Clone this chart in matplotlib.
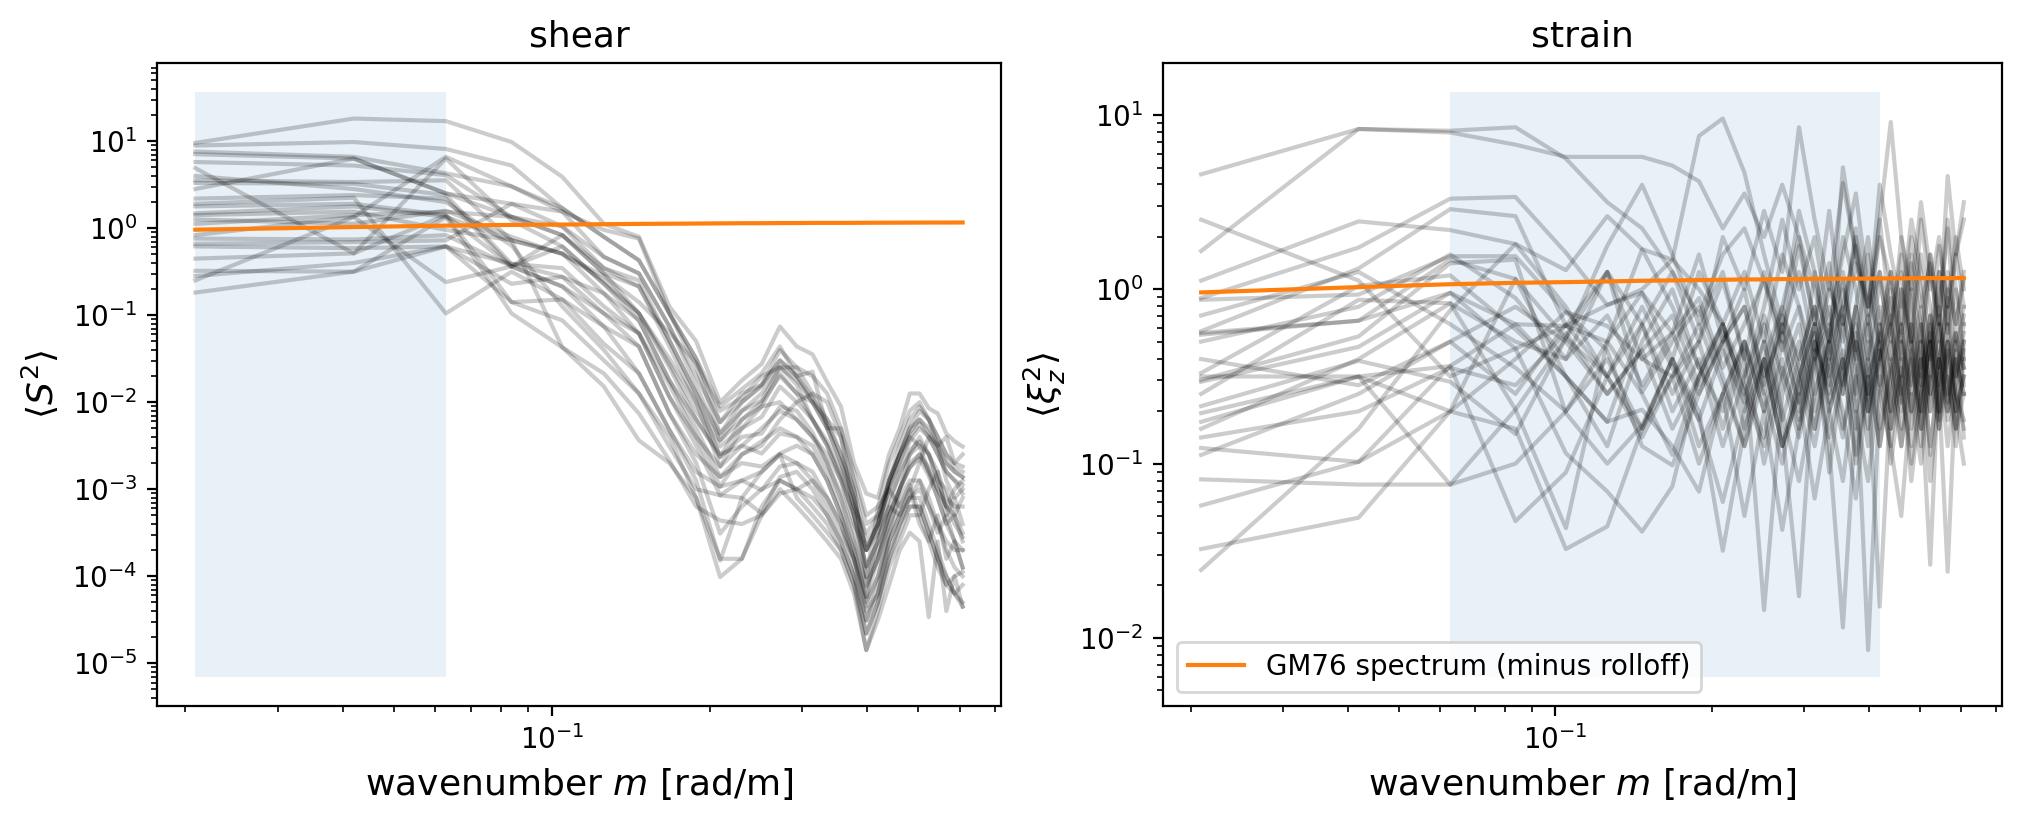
import numpy as np
import matplotlib.pyplot as plt

# vertical wavenumbers of the spectral estimates [rad/m]
m = [0.0209, 0.0419, 0.0628, 0.0838, 0.1047, 0.1257, 0.1466, 0.1676, 0.1885, 0.2094,
     0.2304, 0.2513, 0.2723, 0.2932, 0.3142, 0.3351, 0.3560, 0.3770, 0.3979, 0.4189,
     0.4398, 0.4608, 0.4817, 0.5027, 0.5236, 0.5445, 0.5655, 0.5864, 0.6074]

# GM76 reference spectrum (same in both panels)
gm76 = [0.96, 1.03, 1.07, 1.09, 1.10, 1.11, 1.12, 1.125, 1.13, 1.135, 1.14, 1.14, 1.145, 1.145,
        1.15, 1.15, 1.15, 1.152, 1.154, 1.155, 1.156, 1.157, 1.158, 1.159, 1.16, 1.16, 1.16,
        1.161, 1.162]

# normalised shear spectra, one row per profile (log10 values)
shear_log10 = [
    [0.98, 1.26, 1.23, 0.99, 0.59, 0.05, -0.10, -0.90, -1.30, -2.00, -1.75, -1.56, -1.13, -1.36, -1.45, -1.77, -2.05, -2.70, -3.05, -3.10, -2.60, -2.30, -1.90, -1.90, -2.07, -2.13, -2.36, -2.45, -2.51],
    [0.95, 0.99, 0.91, 0.72, 0.23, -0.10, -0.37, -0.98, -1.50, -2.05, -1.85, -1.67, -1.36, -1.70, -1.65, -2.30, -2.30, -2.90, -3.40, -3.30, -2.90, -2.50, -2.20, -2.05, -2.20, -2.40, -2.60, -2.75, -2.80],
    [0.88, 0.82, 0.63, 0.48, 0.19, -0.33, -0.52, -1.13, -1.70, -2.23, -2.00, -1.82, -1.52, -1.70, -2.00, -2.30, -2.70, -3.10, -3.70, -3.50, -3.20, -2.80, -2.60, -2.40, -2.60, -2.90, -3.20, -3.00, -2.90],
    [0.85, 0.80, 0.40, 0.28, 0.02, -0.46, -0.60, -1.29, -1.90, -2.36, -2.10, -1.98, -1.59, -1.80, -2.20, -2.50, -2.85, -3.30, -3.89, -3.60, -3.10, -2.85, -2.55, -2.45, -2.60, -2.80, -3.10, -3.20, -3.20],
    [0.76, 0.72, 0.61, 0.13, -0.08, -0.52, -0.67, -1.36, -2.00, -2.44, -2.20, -2.05, -1.67, -1.90, -2.00, -2.20, -2.40, -3.30, -4.01, -3.20, -3.00, -3.20, -3.00, -2.70, -2.40, -2.50, -2.90, -3.10, -3.00],
    [0.69, -0.29, 0.80, 0.09, -0.21, -0.64, -0.98, -1.56, -2.10, -2.51, -2.30, -2.17, -1.82, -2.00, -2.20, -2.45, -2.80, -3.20, -3.70, -3.40, -2.90, -2.60, -2.30, -2.20, -2.35, -2.50, -2.70, -2.80, -2.86],
    [0.55, 0.53, 0.55, -0.14, -0.29, -0.75, -1.06, -1.75, -2.20, -2.63, -2.40, -2.36, -2.05, -2.10, -2.35, -2.70, -3.05, -3.50, -4.12, -3.80, -3.30, -3.00, -2.75, -2.65, -2.85, -3.10, -3.40, -3.60, -3.70],
    [0.52, 0.51, 0.38, -0.41, -0.56, -0.98, -1.21, -1.94, -2.40, -2.74, -2.50, -2.59, -2.36, -2.40, -2.50, -2.80, -3.20, -3.70, -4.24, -3.50, -2.90, -2.60, -2.40, -2.50, -2.80, -3.10, -3.40, -3.30, -3.60],
    [0.34, 0.38, 0.34, -0.44, -0.67, -1.13, -1.36, -2.13, -2.60, -2.86, -2.70, -2.74, -2.59, -2.50, -2.60, -2.90, -3.30, -3.80, -4.35, -4.00, -3.50, -3.00, -2.60, -2.50, -2.60, -2.90, -3.00, -3.30, -3.10],
    [0.28, 0.35, -0.98, -0.50, -0.82, -1.33, -1.67, -2.32, -2.80, -2.97, -2.90, -3.01, -2.74, -2.70, -2.80, -3.10, -3.40, -3.90, -4.51, -4.20, -3.70, -3.40, -3.10, -3.00, -3.20, -3.40, -3.60, -3.70, -3.70],
    [0.25, 0.28, 0.15, -0.85, -1.06, -1.52, -1.90, -2.51, -3.00, -3.07, -3.10, -3.28, -2.86, -2.80, -3.00, -3.30, -3.60, -4.00, -4.66, -4.30, -3.80, -3.50, -3.20, -3.20, -3.50, -3.80, -4.00, -4.20, -4.35],
    [0.17, 0.25, 0.13, -0.98, -1.37, -1.67, -2.13, -2.67, -3.20, -3.36, -3.40, -3.30, -3.05, -3.00, -3.20, -3.40, -3.70, -4.10, -4.85, -4.40, -3.90, -3.60, -3.30, -3.30, -3.60, -3.90, -4.10, -4.00, -3.95],
    [0.15, 0.19, -0.02, -0.14, -0.29, -0.60, -0.98, -1.50, -2.00, -2.74, -2.30, -2.05, -2.00, -2.20, -2.40, -2.60, -2.90, -3.30, -3.89, -3.60, -3.20, -3.30, -3.10, -2.90, -3.20, -3.50, -3.30, -3.60, -3.90],
    [0.05, 0.15, 0.19, 0.13, 0.02, -0.33, -0.52, -1.13, -1.80, -2.44, -2.10, -1.90, -1.60, -1.75, -2.00, -2.30, -2.70, -3.20, -3.51, -3.30, -2.95, -2.60, -2.30, -2.10, -2.20, -2.40, -2.60, -2.70, -2.74],
    [-0.08, 0.13, -0.62, -0.44, -0.08, -0.46, -0.67, -1.29, -1.90, -2.63, -2.20, -2.00, -1.70, -1.90, -2.20, -2.50, -2.90, -3.40, -3.70, -3.40, -3.00, -2.70, -2.45, -2.30, -2.40, -2.60, -2.80, -2.90, -3.05],
    [-0.12, -0.13, -0.08, -0.44, -0.21, -0.64, -1.06, -1.75, -2.30, -2.86, -2.60, -2.50, -2.20, -2.00, -1.90, -2.00, -2.40, -3.00, -4.01, -3.70, -3.30, -3.00, -2.75, -2.60, -2.80, -3.00, -3.20, -3.30, -3.50],
    [-0.18, -0.16, -0.14, 0.28, 0.19, -0.02, -0.12, -0.98, -1.50, -2.23, -1.90, -1.80, -1.40, -1.60, -1.90, -2.20, -2.60, -3.00, -3.60, -3.40, -2.90, -2.60, -2.35, -2.20, -2.30, -2.50, -2.70, -2.80, -2.86],
    [-0.21, -0.23, -0.21, -0.64, -0.56, -0.75, -1.21, -1.94, -2.50, -3.07, -2.90, -2.80, -2.60, -2.70, -2.90, -3.10, -3.40, -3.80, -4.24, -3.80, -3.40, -3.10, -2.90, -2.90, -3.10, -3.40, -3.70, -3.90, -4.00],
    [-0.35, -0.29, 0.15, -0.44, -0.67, -0.98, -1.36, -2.13, -2.70, -3.51, -3.20, -3.00, -2.90, -3.00, -3.10, -3.30, -3.60, -4.00, -4.51, -4.10, -3.60, -3.30, -3.10, -3.10, -3.40, -3.70, -4.00, -4.20, -4.30],
    [-0.49, -0.50, -0.21, -0.85, -0.82, -1.13, -1.67, -2.32, -2.90, -3.82, -3.10, -2.80, -2.60, -3.10, -3.30, -3.50, -3.70, -4.10, -4.66, -4.30, -3.80, -3.40, -3.20, -3.20, -3.50, -3.80, -4.10, -4.20, -4.10],
    [-0.60, 0.13, 0.82, 0.48, 0.23, -0.10, -0.37, -0.98, -1.60, -2.36, -2.00, -1.80, -1.52, -1.70, -1.95, -2.25, -2.60, -3.10, -3.70, -3.40, -3.00, -2.70, -2.40, -2.25, -2.40, -2.60, -2.80, -2.90, -2.95],
    [-0.74, -0.50, 0.13, -0.14, -1.37, -1.82, -2.44, -2.70, -3.10, -4.01, -3.80, -3.30, -3.00, -3.20, -3.40, -3.60, -3.80, -4.20, -4.85, -4.50, -4.10, -3.70, -3.50, -3.60, -4.47, -3.60, -4.40, -4.00, -4.35],
    [0.45, 0.80, 0.40, 0.13, -0.08, -0.52, -0.98, -1.60, -2.20, -2.60, -2.50, -2.30, -2.10, -2.20, -2.40, -2.70, -3.10, -3.60, -4.10, -3.80, -3.30, -3.00, -2.70, -2.60, -2.75, -3.00, -3.20, -3.40, -3.55],
    [-0.55, -0.40, -0.21, -0.41, -0.46, -0.90, -1.21, -1.80, -2.40, -2.97, -2.60, -2.45, -2.30, -2.40, -2.60, -2.90, -3.30, -3.70, -4.30, -4.00, -3.50, -3.20, -2.95, -3.30, -3.00, -2.80, -3.30, -3.10, -3.40],
    [0.60, 0.45, 0.30, -0.20, -0.90, -1.40, -1.90, -2.40, -3.10, -3.80, -3.80, -3.20, -2.90, -3.00, -2.90, -3.20, -3.50, -3.80, -4.40, -4.20, -3.60, -3.30, -3.00, -3.40, -3.60, -3.30, -3.80, -3.60, -3.90],
    [0.10, 0.05, 0.20, -0.10, -0.30, -0.55, -0.85, -1.20, -1.55, -2.10, -1.95, -1.70, -1.60, -1.60, -1.70, -1.90, -2.30, -2.80, -3.30, -3.20, -2.70, -2.40, -2.10, -2.00, -2.20, -2.50, -2.40, -2.70, -2.60],
]

# normalised strain spectra, one row per profile (log10 values)
strain_log10 = [
    [0.66, 0.92, 0.91, 0.93, 0.75, 0.50, 0.35, 0.10, -0.15, 0.20, 0.35, 0.05, -0.25, 0.10, -0.35, 0.05, -0.30, 0.15, -0.10, 0.30, 0.05, -0.25, 0.20, -0.10, 0.15, -0.30, 0.10, -0.20, 0.05],
    [0.22, 0.92, 0.90, 0.83, 0.76, 0.76, 0.76, 0.71, 0.62, 0.35, 0.55, 0.30, 0.60, 0.30, 0.00, -0.30, -0.10, 0.25, -0.20, 0.10, -0.40, 0.00, -0.30, 0.20, -0.10, -0.45, 0.00, -0.20, 0.10],
    [0.40, 0.05, -0.50, -0.34, -0.21, 0.10, -0.40, -0.25, -0.60, -0.30, 0.00, -0.55, -0.20, -0.60, 0.10, -0.40, 0.70, 0.20, -0.30, 0.40, -0.20, -0.60, 0.00, -0.50, -0.15, -0.70, -0.20, -0.50, -0.30],
    [0.05, 0.39, 0.34, 0.26, 0.11, 0.42, 0.23, 0.17, 0.88, 0.98, 0.67, 0.20, -0.20, 0.45, 0.10, -0.30, 0.30, 0.00, -0.40, 0.05, -0.30, 0.30, -0.10, -0.45, 0.20, -0.20, 0.40, 0.00, -0.20],
    [-0.05, 0.24, 0.52, 0.53, 0.21, -0.09, -0.02, -0.25, 0.20, -0.30, -0.10, -0.60, -0.15, -0.40, -0.10, -0.50, 0.00, -0.35, 0.20, -0.40, -0.05, -0.30, 0.15, -0.20, -0.50, 0.10, -0.25, 0.00, -0.40],
    [-0.06, -0.03, 0.19, 0.19, -0.13, -0.21, -0.40, -0.50, -0.30, -0.80, -0.35, -1.00, -0.50, -0.20, -0.70, -0.30, 0.10, -0.40, -0.90, -0.30, 0.00, -0.50, -0.20, -0.70, -0.30, -0.10, -0.60, -0.35, -0.45],
    [-0.24, 0.12, 0.46, 0.42, -0.21, -0.30, 0.23, -0.10, -0.45, -0.20, -0.70, -0.30, -0.80, -1.76, -0.40, -0.20, -0.60, -0.10, -0.50, -0.30, -0.70, 0.00, -0.40, -0.80, -0.20, -0.55, -0.30, -0.70, -0.50],
    [-0.26, -0.18, 0.17, 0.06, -0.28, 0.10, -0.59, -0.30, -0.10, -0.50, -0.90, -0.40, -0.10, 0.30, -0.20, 0.45, -0.20, 0.35, -0.15, 0.60, 0.20, -0.10, 0.40, 0.10, -0.30, 0.25, -0.10, 0.30, 0.00],
    [-0.48, 0.02, 0.08, -0.23, -0.50, -0.76, -0.69, -0.90, -1.16, -0.60, -0.30, -0.70, -0.20, -0.50, -0.90, -0.40, -0.10, -0.60, -0.30, -0.80, -0.45, -0.20, -0.70, -0.40, -0.90, -0.50, -0.20, -0.60, -0.80],
    [-0.52, -0.27, 0.15, 0.17, -0.71, -1.00, -0.78, -0.40, -0.70, -1.50, -0.80, -0.40, -0.90, -0.50, -0.20, -0.70, -1.10, -0.50, -0.20, -0.60, -0.90, -0.40, -0.70, -0.30, -0.60, -0.20, -0.50, -0.80, -0.60],
    [-0.53, -0.33, -0.02, -0.34, -0.94, -1.16, -1.39, -1.13, -0.50, -0.20, -0.60, -0.30, -0.75, -0.40, -0.10, -0.50, -0.85, -0.30, -0.60, -0.20, -0.80, -0.50, -1.00, -0.60, -0.30, -0.75, -0.40, -0.25, -0.55],
    [-0.60, -0.06, -0.08, -0.69, -1.37, -0.30, -0.02, -0.40, 0.10, -0.20, -0.50, -0.10, 0.40, 0.00, 0.30, -0.20, 0.20, 0.55, 0.00, -0.30, 0.10, -0.20, 0.30, 0.00, -0.40, 0.10, -0.20, 0.20, -0.10],
    [-0.67, -0.41, -0.53, -0.83, -0.28, 0.25, 0.60, 0.20, -0.20, 0.10, -0.40, -1.84, -0.60, -0.30, -0.80, -0.40, -0.70, -1.20, -0.50, -0.90, -0.40, -0.70, -0.30, -0.80, -0.50, -0.20, -0.70, -0.40, -0.60],
    [-0.71, -0.50, -0.44, -1.33, -1.05, -0.50, -0.80, -0.40, -0.90, -0.60, -1.30, -0.70, -1.38, -0.80, -0.40, -0.90, -1.94, -0.70, -1.10, -0.50, -0.90, -1.30, -0.60, -1.00, -0.50, -0.80, -0.30, -0.70, -1.00],
    [-0.76, -0.50, -0.70, 0.06, -0.50, -0.76, -0.20, -0.70, -0.40, -0.90, -0.50, -0.20, -0.70, -1.10, -0.60, -0.30, -0.80, -0.50, -2.07, -0.60, -0.30, -0.90, -0.50, -0.20, -0.70, -0.40, -0.90, -0.55, -0.35],
    [-0.91, -0.99, -0.70, -0.40, -0.13, -0.35, -0.90, -1.01, -0.60, -0.30, -0.80, -0.40, -0.90, -0.60, -1.20, -0.70, -0.40, -1.00, -0.50, -1.82, -0.60, -0.30, -0.80, -0.40, -1.10, -0.60, -0.30, -0.70, -0.50],
    [-1.09, -1.12, -1.12, -0.69, -0.28, -0.50, -0.85, -0.50, -0.20, -0.55, -0.90, -0.50, -0.10, -0.45, -0.80, -0.30, -0.60, -0.10, -0.70, -0.35, -1.00, -0.55, -0.20, -0.60, -1.58, -0.40, -0.70, -0.30, -0.85],
    [-1.24, -0.99, -0.44, -0.20, -0.50, -0.90, -0.30, 0.00, -0.45, -0.70, -0.30, -0.60, -1.00, -0.50, -0.20, -0.65, -0.35, -0.80, -0.40, -0.10, -0.55, -0.90, -0.40, -0.70, -0.30, -0.60, -1.62, -0.50, -0.20],
    [-1.49, -1.31, -0.70, -0.80, -1.49, -1.36, -0.80, -0.40, -0.75, -1.22, -0.70, -0.40, -0.90, -0.60, -0.20, -0.70, -0.40, -0.95, -0.50, -0.25, -0.70, -0.45, -1.10, -0.60, -0.30, -0.80, -0.50, -0.90, -0.40],
    [-1.61, -0.80, -0.12, 0.26, -0.10, -0.50, -0.20, 0.10, -0.30, 0.30, 0.00, 0.45, 0.10, 0.93, 0.40, 0.00, 0.61, 0.20, -0.10, 0.40, 0.96, 0.30, 0.00, 0.50, 0.10, -0.20, 0.65, 0.20, 0.50],
    [-0.50, -0.50, -1.12, -1.00, -0.70, -0.40, -0.80, -0.50, -1.00, -0.60, -0.30, -0.70, -0.40, -0.80, -0.30, -0.60, -0.20, -0.70, -0.40, -0.90, -0.50, -0.20, -0.60, -0.30, -0.70, -0.40, -0.10, -0.50, -0.25],
    [-0.25, -0.18, -0.02, -0.20, -0.21, -0.09, 0.00, 0.17, 0.00, -0.20, 0.10, -0.30, 0.20, -0.10, -0.40, 0.00, -0.20, 0.30, -0.10, 0.10, -0.20, 0.20, -0.30, 0.40, 0.00, 0.30, -0.10, 0.20, 0.40],
    [-0.80, -0.40, -0.08, -0.30, -0.40, 0.10, -0.20, -0.60, -0.30, 0.05, -0.40, 0.10, -0.30, 0.25, -0.20, 0.15, -0.45, -0.10, 0.30, -0.20, 0.10, -0.40, 0.05, -0.30, 0.20, -0.15, 0.35, -0.30, -0.10],
    [-0.95, -0.60, -0.30, -0.10, -0.30, -0.60, -0.35, -0.80, -0.50, -0.20, -0.60, -0.90, -0.45, -0.75, -0.35, -0.85, -0.50, -0.25, -0.70, -0.40, -0.15, -0.60, -0.90, -0.45, -0.25, -0.70, -0.35, -0.60, -0.75],
    [-0.30, -0.10, 0.20, -0.05, -0.40, -0.15, -0.55, -0.25, -0.05, -0.45, -0.20, 0.05, -0.35, -0.10, -0.60, -0.25, 0.05, -0.40, -0.15, -0.55, -0.20, 0.10, -0.30, -0.55, -0.15, -0.45, -0.05, -0.35, -0.15],
    [-0.40, -0.55, -0.30, -0.60, -0.20, -0.50, -0.10, -0.45, -0.75, -0.35, -0.65, -0.15, -0.50, -0.85, -0.40, -0.10, -0.55, -0.30, -0.70, -0.20, -0.45, -0.80, -0.35, -0.10, -0.60, -0.30, -0.75, -0.40, -0.60],
    [-0.15, 0.10, -0.20, -0.45, -0.70, -0.30, -0.60, -0.95, -0.50, -0.25, -0.55, -0.85, -0.30, -0.65, -0.25, -1.05, -0.45, -0.20, -0.60, -0.35, -0.80, -0.30, -0.55, -0.20, -0.95, -0.40, -0.65, -0.25, -0.45],
    [-0.85, -0.70, -0.45, -0.55, -0.25, -0.60, -0.35, -0.15, -0.55, -0.30, -0.10, -0.50, -0.25, -0.70, -0.30, -0.55, -0.15, -0.45, -0.80, -0.40, -0.20, -0.65, -0.35, -0.90, -0.40, -0.15, -0.50, -0.80, -0.30],
]

# index ranges of the wavenumber bands used for the fit (inclusive)
shear_band = (0, 2)
strain_band = (2, 19)

fig = plt.figure(figsize=(10.115, 4.115), dpi=200)
ax1 = fig.add_axes([0.0776, 0.1422, 0.4172, 0.7816])
ax2 = fig.add_axes([0.5749, 0.1422, 0.4147, 0.7816])

panels = [
    (ax1, shear_log10, shear_band, 'shear', r'$\langle S^2 \rangle$'),
    (ax2, strain_log10, strain_band, 'strain', r'$\langle \xi_z^2 \rangle$'),
]

for ax, curves, band, title, ylab in panels:
    for c in curves:
        ax.loglog(m, 10 ** np.array(c), color='k', alpha=0.2, lw=1.5)
    lo, hi = ax.get_ylim()
    ax.fill_between(m[band[0]:band[1] + 1], lo, hi, color='tab:blue', alpha=0.1, lw=0)
    ax.loglog(m, gm76, color='tab:orange', lw=1.5, label='GM76 spectrum (minus rolloff)')
    ax.set_title(title, fontsize=13)
    ax.set_xlabel('wavenumber $m$ [rad/m]', fontsize=13)
    ax.set_ylabel(ylab, fontsize=13)

ax2.legend(loc='lower left')

fig.savefig('out.png', dpi=200)
